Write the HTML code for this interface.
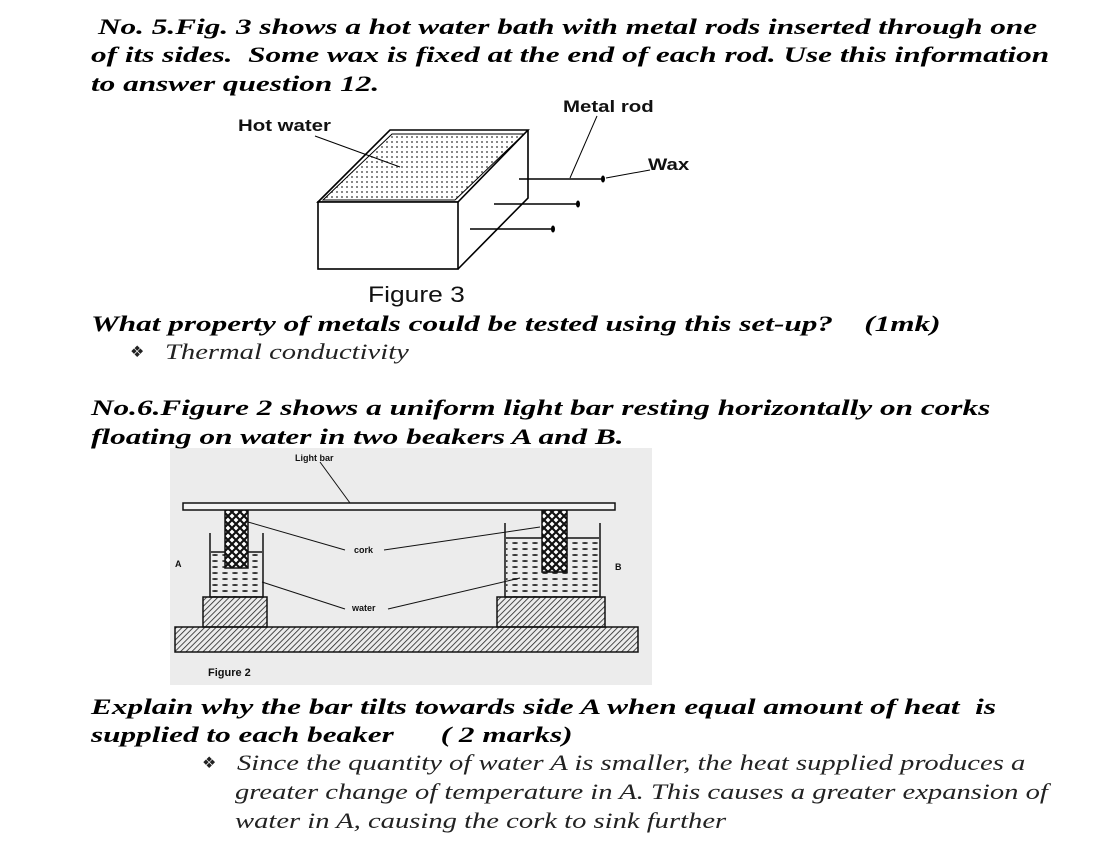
<!DOCTYPE html>
<html><head><meta charset="utf-8"><style>
body{margin:0;width:1102px;height:853px;background:#fff;position:relative;overflow:hidden;font-family:"Liberation Serif",serif;}
.t{position:absolute;font-weight:bold;font-style:italic;font-size:22px;white-space:nowrap;color:#000;transform:scaleX(1.42);transform-origin:0 0;}
.n{position:absolute;font-style:italic;font-size:22px;white-space:nowrap;color:#222;transform:scaleX(1.3);transform-origin:0 0;}
.b{position:absolute;font-size:16px;color:#222;}
.s{position:absolute;font-family:"Liberation Sans",sans-serif;font-weight:bold;font-size:17px;white-space:nowrap;transform:scaleX(1.2);transform-origin:0 0;color:#111;}
</style></head><body>
<div class="t" style="left:98px;top:14px">No. 5.Fig. 3 shows a hot water bath with metal rods inserted through one</div>
<div class="t" style="left:91px;top:42px">of its sides.&nbsp; Some wax is fixed at the end of each rod. Use this information</div>
<div class="t" style="left:91px;top:71px">to answer question 12.</div>

<svg style="position:absolute;left:0;top:0" width="1102" height="853">
<defs>
<pattern id="dots" width="5" height="5" patternUnits="userSpaceOnUse"><circle cx="2" cy="2" r="0.9" fill="#333"/></pattern>
<pattern id="hatch" width="4" height="4" patternUnits="userSpaceOnUse" patternTransform="rotate(45)"><line x1="0" y1="0" x2="0" y2="4" stroke="#222" stroke-width="1.6"/></pattern>
<pattern id="cross" width="8" height="8" patternUnits="userSpaceOnUse"><rect width="8" height="8" fill="#fff"/><path d="M0 0L8 8M8 0L0 8" stroke="#111" stroke-width="2.2"/></pattern>
<pattern id="wat" width="10" height="6" patternUnits="userSpaceOnUse"><ellipse cx="5" cy="3" rx="3" ry="1" fill="#333"/></pattern>
</defs>
<g stroke="#000" stroke-width="1.6" fill="none">
<polygon points="318,202 390,130 528,130 458,202" fill="#fff"/>
<polygon points="323,200 392,134 524,134 455,200" fill="url(#dots)" stroke-width="1"/>
<rect x="318" y="202" width="140" height="67" fill="#fff"/>
<polyline points="528,130 528,198 458,269"/>
<line x1="519" y1="179" x2="603" y2="179"/>
<line x1="494" y1="204" x2="578" y2="204"/>
<line x1="470" y1="229" x2="553" y2="229"/>
<line x1="315" y1="136" x2="400" y2="167" stroke-width="1"/>
<line x1="597" y1="116" x2="570" y2="178" stroke-width="1"/>
<line x1="606" y1="178" x2="650" y2="170" stroke-width="1"/>
</g>
<g fill="#000"><ellipse cx="603" cy="179" rx="2" ry="3.5"/><ellipse cx="578" cy="204" rx="2" ry="3.5"/><ellipse cx="553" cy="229" rx="2" ry="3.5"/></g>

<rect x="170" y="448" width="482" height="237" fill="#ececec"/>
<g stroke="#111" stroke-width="1.5">
<rect x="175" y="627" width="463" height="25" fill="url(#hatch)"/>
<rect x="203" y="597" width="64" height="30" fill="url(#hatch)"/>
<rect x="497" y="597" width="108" height="30" fill="url(#hatch)"/>
<rect x="211" y="552" width="51" height="45" fill="url(#wat)" stroke="none"/>
<rect x="506" y="538" width="93" height="59" fill="url(#wat)" stroke="none"/>
<path d="M210 533 V597 H263 V533" fill="none"/>
<path d="M505 523 V597 H600 V523" fill="none"/>
<line x1="211" y1="552" x2="262" y2="552"/>
<line x1="506" y1="538" x2="599" y2="538"/>
<rect x="225" y="510" width="23" height="58" fill="url(#cross)"/>
<rect x="542" y="510" width="25" height="62" fill="url(#cross)"/>
<rect x="183" y="503" width="432" height="7" fill="#f4f4f4"/>
<g stroke-width="1" fill="none">
<line x1="320" y1="462" x2="350" y2="503"/>
<line x1="248" y1="522" x2="345" y2="550"/>
<line x1="384" y1="550" x2="540" y2="527"/>
<line x1="262" y1="582" x2="345" y2="609"/>
<line x1="388" y1="609" x2="520" y2="578"/>
</g>
</g>
<g font-family="Liberation Sans,sans-serif" font-weight="bold" font-size="9" fill="#111">
<text x="295" y="461">Light bar</text>
<text x="354" y="553">cork</text>
<text x="352" y="611">water</text>
<text x="175" y="567">A</text>
<text x="615" y="570">B</text>
<text x="208" y="676" font-size="11">Figure 2</text>
</g>
</svg>

<div class="s" style="left:238px;top:116px">Hot water</div>
<div class="s" style="left:563px;top:97px">Metal rod</div>
<div class="s" style="left:648px;top:155px">Wax</div>
<div class="s" style="left:368px;top:282px;font-size:22px;font-weight:normal;transform:scaleX(1.2)">Figure 3</div>

<div class="t" style="left:91px;top:311px">What property of metals could be tested using this set-up?&nbsp;&nbsp;&nbsp; (1mk)</div>
<div class="b" style="left:130px;top:342px">❖</div>
<div class="n" style="left:165px;top:339px">Thermal conductivity</div>

<div class="t" style="left:91px;top:395px">No.6.Figure 2 shows a uniform light bar resting horizontally on corks</div>
<div class="t" style="left:91px;top:424px">floating on water in two beakers A and B.</div>

<div class="t" style="left:91px;top:694px">Explain why the bar tilts towards side A when equal amount of heat&nbsp; is</div>
<div class="t" style="left:91px;top:722px">supplied to each beaker&nbsp;&nbsp;&nbsp;&nbsp;&nbsp; ( 2 marks)</div>
<div class="b" style="left:202px;top:753px">❖</div>
<div class="n" style="left:237px;top:750px">Since the quantity of water A is smaller, the heat supplied produces a</div>
<div class="n" style="left:235px;top:779px">greater change of temperature in A. This causes a greater expansion of</div>
<div class="n" style="left:235px;top:808px">water in A, causing the cork to sink further</div>
</body></html>
